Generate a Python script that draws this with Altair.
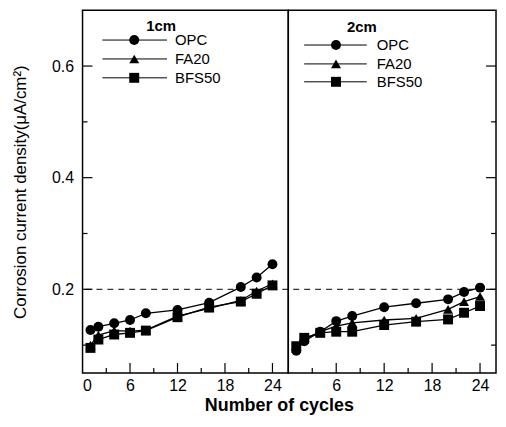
import altair as alt
import pandas as pd

# ---------------- data ----------------
cycles = [1, 2, 4, 6, 8, 12, 16, 20, 22, 24]
series = ["OPC", "FA20", "BFS50"]
shapes = ["circle", "triangle-up", "square"]
panels = ["1cm", "2cm"]

opc_1cm = [0.127, 0.133, 0.139, 0.145, 0.157, 0.163, 0.176, 0.204, 0.221, 0.245]
fa20_1cm = [0.100, 0.118, 0.126, 0.125, 0.127, 0.152, 0.166, 0.180, 0.197, 0.210]
bfs50_1cm = [0.095, 0.110, 0.119, 0.122, 0.126, 0.150, 0.168, 0.178, 0.192, 0.207]

opc_2cm = [0.090, 0.107, 0.124, 0.143, 0.152, 0.168, 0.175, 0.182, 0.195, 0.203]
fa20_2cm = [0.094, 0.110, 0.124, 0.134, 0.140, 0.145, 0.148, 0.164, 0.178, 0.187]
bfs50_2cm = [0.098, 0.113, 0.122, 0.124, 0.124, 0.136, 0.142, 0.146, 0.158, 0.170]

ref_value = [0.2]
x_labels_left = [0, 6, 12, 18, 24]
x_labels_right = [6, 12, 18, 24]
x_major = [6, 12, 18, 24]
x_minor = [3, 9, 15, 21]
y_labels = [0.2, 0.4, 0.6]
y_minor = [0.1, 0.3, 0.5]

y_title = "Corrosion current density(μA/cm²)"
x_title = "Number of cycles"

# ---------------- layout ----------------
W_L, W_R, H = 207, 209, 365
XDOM = [0, 26]
YDOM = [0.05, 0.70]
FONT = "Liberation Sans"

panel_values = {
    "1cm": [opc_1cm, fa20_1cm, bfs50_1cm],
    "2cm": [opc_2cm, fa20_2cm, bfs50_2cm],
}
rows = []
for p in panels:
    for s, vals in zip(series, panel_values[p]):
        for c, v in zip(cycles, vals):
            rows.append({"panel": p, "series": s, "cycle": c, "value": v})
df = pd.DataFrame(rows)

xscale = alt.Scale(domain=XDOM, nice=False, zero=False)
yscale = alt.Scale(domain=YDOM, nice=False, zero=False)


def make_panel(panel, width, xlabels, show_y, leg):
    d = df[df.panel == panel]
    x = alt.X("cycle:Q", scale=xscale, title=None,
              axis=alt.Axis(values=xlabels, ticks=False, domain=False, grid=False,
                            title=None, labelFontSize=16, labelPadding=5,
                            labelColor="black", labelFont=FONT, format="d"))
    if show_y:
        y = alt.Y("value:Q", scale=yscale, title=y_title,
                  axis=alt.Axis(values=y_labels, ticks=False, domain=False, grid=False,
                                title=y_title, titleFontSize=17, titleFont=FONT,
                                titleFontWeight="normal", titleColor="black",
                                titlePadding=22, labelFontSize=16, labelPadding=9,
                                labelColor="black", labelFont=FONT, format=".1f"))
    else:
        y = alt.Y("value:Q", scale=yscale, axis=None)

    base = alt.Chart(d)
    lines = base.mark_line(color="black", strokeWidth=1.3).encode(x=x, y=y, detail="series:N")
    pts = base.mark_point(filled=True, color="black", size=100, opacity=1).encode(
        x=x, y=y,
        shape=alt.Shape("series:N", scale=alt.Scale(domain=series, range=shapes), legend=None))

    ref = alt.Chart(pd.DataFrame({"value": ref_value})).mark_rule(
        color="black", strokeWidth=1, strokeDash=[6, 5]).encode(y=y)

    xt_major = alt.Chart(pd.DataFrame({"cycle": x_major})).mark_rule(color="black", strokeWidth=1.2).encode(
        x=x, y=alt.value(H), y2=alt.value(H - 10))
    xt_minor = alt.Chart(pd.DataFrame({"cycle": x_minor})).mark_rule(color="black", strokeWidth=1.2).encode(
        x=x, y=alt.value(H), y2=alt.value(H - 5))

    if show_y:
        ex, emaj, emin = 0, 10, 5
    else:
        ex, emaj, emin = width, width - 10, width - 5
    yt_major = alt.Chart(pd.DataFrame({"value": y_labels})).mark_rule(color="black", strokeWidth=1.2).encode(
        y=y, x=alt.value(ex), x2=alt.value(emaj))
    yt_minor = alt.Chart(pd.DataFrame({"value": y_minor})).mark_rule(color="black", strokeWidth=1.2).encode(
        y=y, x=alt.value(ex), x2=alt.value(emin))

    layers = [lines, ref, pts, xt_major, xt_minor, yt_major, yt_minor]

    # legend block
    lx0, lx1, mx, tx, hx, hy, rys = leg
    layers.append(alt.Chart(pd.DataFrame({"t": [panel]})).mark_text(
        fontSize=15, fontWeight="bold", font=FONT, color="black", baseline="middle", align="center").encode(
        x=alt.value(hx), y=alt.value(hy), text="t:N"))
    for s, shp, ry in zip(series, shapes, rys):
        one = pd.DataFrame({"t": [s]})
        layers.append(alt.Chart(one).mark_rule(color="black", strokeWidth=1).encode(
            x=alt.value(lx0), x2=alt.value(lx1), y=alt.value(ry)))
        layers.append(alt.Chart(one).mark_point(filled=True, color="black", size=100, opacity=1, shape=shp).encode(
            x=alt.value(mx), y=alt.value(ry)))
        layers.append(alt.Chart(one).mark_text(
            fontSize=15, font=FONT, color="black", align="left", baseline="middle").encode(
            x=alt.value(tx), y=alt.value(ry), text="t:N"))

    if show_y:
        layers.append(alt.Chart(pd.DataFrame({"t": [x_title]})).mark_text(
            fontSize=18, fontWeight="bold", font=FONT, color="black", align="center", baseline="middle").encode(
            x=alt.value(198), y=alt.value(H + 33), text="t:N"))

    return alt.layer(*layers).properties(width=width, height=H)


left = make_panel("1cm", W_L, x_labels_left, True, (20, 85, 52, 93, 79, 16, [30, 49, 68]))
right = make_panel("2cm", W_R, x_labels_right, False, (16, 79, 48, 89, 74, 17, [35, 54, 72]))

chart = alt.hconcat(left, right, spacing=0, bounds="flush").properties(
    padding={"left": 3, "top": 0, "right": 0, "bottom": 0}).configure_view(
    stroke="black", strokeWidth=1.5)

chart.save("out.html", embed_options={"renderer": "svg", "actions": False})
